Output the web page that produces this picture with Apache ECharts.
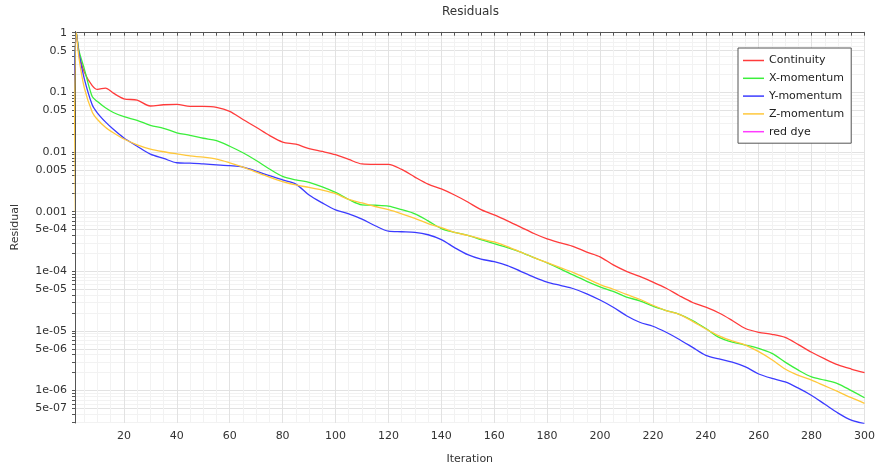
<!DOCTYPE html>
<html>
<head>
<meta charset="utf-8">
<title>Residuals</title>
<script src="https://cdn.jsdelivr.net/npm/echarts@6/dist/echarts.min.js"></script>
<style>
  html, body { margin: 0; padding: 0; background: #ffffff; }
  #residualsChart { width: 878px; height: 470px; }
</style>
</head>
<body>
<div id="residualsChart"></div>
<script>
const iterations = [1, 2, 3, 5, 8, 10, 13, 16, 20, 25, 30, 35, 40, 45, 50, 55, 60, 65, 70, 75, 80, 85, 90, 95, 100,
  105, 110, 115, 120, 125, 130, 135, 140, 145, 150, 155, 160, 165, 170, 175, 180, 185, 190, 195, 200,
  205, 210, 215, 220, 225, 230, 235, 240, 245, 250, 255, 260, 265, 270, 275, 280, 285, 290, 295, 300];

const continuity = [0.05, 1.0, 0.45, 0.22, 0.13, 0.112, 0.118, 0.097, 0.078, 0.074, 0.059, 0.062, 0.063, 0.058, 0.058, 0.056, 0.048, 0.035, 0.026, 0.019, 0.0147, 0.0135, 0.0114, 0.0102, 0.009,
  0.0075, 0.0063, 0.0062, 0.0062, 0.0051, 0.0038, 0.0029, 0.0024, 0.0019, 0.00145, 0.00108, 0.00088, 0.0007, 0.00055, 0.00043, 0.00035, 0.0003, 0.00026, 0.00021, 0.000175,
  0.000128, 0.0001, 0.000082, 0.000066, 0.000052, 0.000039, 0.00003, 0.000025, 0.00002, 0.000015, 0.000011, 0.0000095, 0.0000088, 0.0000078, 0.0000059, 0.0000044, 0.0000034, 0.0000027, 0.0000023, 0.000002];

const xMomentum = [0.05, 1.0, 0.5, 0.25, 0.085, 0.07, 0.055, 0.046, 0.039, 0.034, 0.028, 0.025, 0.021, 0.019, 0.017, 0.0155, 0.0125, 0.0097, 0.0072, 0.0052, 0.0039, 0.0034, 0.0031, 0.0026, 0.0021,
  0.0016, 0.0013, 0.00128, 0.00124, 0.00108, 0.00092, 0.0007, 0.00052, 0.00045, 0.0004, 0.00034, 0.00029, 0.00025, 0.00021, 0.00017, 0.000138, 0.00011, 0.000086, 0.000068, 0.000055,
  0.000046, 0.000037, 0.000032, 0.000026, 0.000022, 0.000019, 0.000015, 0.000011, 0.0000078, 0.0000065, 0.0000058, 0.0000051, 0.0000042, 0.000003, 0.0000022, 0.0000017, 0.0000015, 0.0000013, 0.000001, 0.00000076];

const yMomentum = [0.05, 1.0, 0.45, 0.17, 0.062, 0.045, 0.032, 0.024, 0.0172, 0.0125, 0.0092, 0.0078, 0.0066, 0.0065, 0.0063, 0.0061, 0.0059, 0.0056, 0.0048, 0.004, 0.0034, 0.0029, 0.0019, 0.0014, 0.00107,
  0.00092, 0.00075, 0.00058, 0.00047, 0.00046, 0.00045, 0.00041, 0.00034, 0.00025, 0.00019, 0.00016, 0.000145, 0.000125, 0.0001, 0.00008, 0.000066, 0.000058, 0.000051, 0.000042, 0.000033,
  0.000025, 0.000018, 0.000014, 0.000012, 0.0000095, 0.0000072, 0.0000053, 0.0000039, 0.0000034, 0.000003, 0.0000025, 0.0000019, 0.0000016, 0.0000014, 0.0000011, 0.00000083, 0.00000059, 0.00000042, 0.00000032, 0.00000028];

const zMomentum = [0.001, 1.0, 0.38, 0.12, 0.047, 0.035, 0.026, 0.021, 0.0165, 0.0132, 0.0112, 0.0101, 0.0093, 0.0086, 0.0082, 0.0076, 0.0066, 0.0056, 0.0046, 0.0038, 0.0032, 0.0028, 0.00255, 0.0023, 0.002,
  0.0016, 0.0014, 0.00122, 0.00108, 0.00092, 0.00077, 0.00063, 0.00054, 0.00045, 0.0004, 0.00035, 0.00031, 0.00026, 0.00021, 0.00017, 0.00014, 0.000115, 0.000095, 0.000076, 0.00006,
  0.00005, 0.000041, 0.000034, 0.000027, 0.000022, 0.000019, 0.0000145, 0.0000108, 0.0000083, 0.0000068, 0.0000058, 0.0000045, 0.0000033, 0.0000023, 0.0000018, 0.0000015, 0.0000012, 0.00000096, 0.00000076, 0.00000061];

// no visible data for this one in the picture
const redDye = [];

const yLabelValues = [1, 0.5, 0.1, 0.05, 0.01, 0.005, 0.001, 5e-4, 1e-4, 5e-5, 1e-5, 5e-6, 1e-6, 5e-7];
const yLabelTexts = ["1", "0.5", "0.1", "0.05", "0.01", "0.005", "0.001", "5e-04", "1e-04", "5e-05", "1e-05", "5e-06", "1e-06", "5e-07"];
const xLabelValues = [20, 40, 60, 80, 100, 120, 140, 160, 180, 200, 220, 240, 260, 280, 300];
const xTickValues = [];
for (let v = 5; v <= 300; v += 5) xTickValues.push(v);

// minor ticks 1..9 per decade, plotted on log10 values
const yTickValues = [];
for (let e = 0; e >= -7; e--) {
  for (let k = 1; k <= 9; k++) {
    const lv = Math.log10(k) + e;
    if (lv <= 0.02 && lv >= -6.543) yTickValues.push(lv);
  }
}

const FONT = "DejaVu Sans";

function toPoints(values) {
  return values.map((v, i) => [iterations[i], Math.log10(v)]);
}

const chartDom = document.getElementById("residualsChart");
const myChart = echarts.init(chartDom);

const option = {
  animation: false,
  backgroundColor: "#ffffff",
  title: {
    text: "Residuals",
    left: 442,
    top: 6,
    padding: 0,
    textStyle: { fontFamily: FONT, fontSize: 12, fontWeight: "normal", color: "#333" },
  },
  legend: {
    orient: "vertical",
    left: 738,
    top: 48,
    padding: [6, 7, 5, 5],
    icon: "rect",
    itemWidth: 21,
    itemHeight: 1.5,
    itemGap: 4.8,
    backgroundColor: "#ffffff",
    borderColor: "#555",
    borderWidth: 1,
    borderRadius: 0,
    textStyle: { fontFamily: FONT, fontSize: 11, color: "#222", lineHeight: 13 },
    data: ["Continuity", "X-momentum", "Y-momentum", "Z-momentum", "red dye"],
  },
  grid: { left: 75, right: 10, top: 31.5, bottom: 44.7, containLabel: false },
  xAxis: [
    {
      type: "value",
      min: 1.5,
      max: 300,
      name: "Iteration",
      nameLocation: "middle",
      nameGap: 31,
      nameTextStyle: { fontFamily: FONT, fontSize: 11, color: "#333" },
      axisLine: { show: true, lineStyle: { color: "#555", width: 1 } },
      axisTick: { show: true, length: 3, customValues: xTickValues, lineStyle: { color: "#555" } },
      axisLabel: {
        customValues: xLabelValues,
        margin: 8,
        fontFamily: FONT,
        fontSize: 11,
        color: "#333",
      },
      splitLine: { show: true, lineStyle: { color: "#f2f2f2", width: 1 } },
    },
    {
      type: "value",
      min: 1.5,
      max: 300,
      position: "bottom",
      axisLine: { show: false },
      axisTick: { show: false, customValues: xLabelValues },
      axisLabel: { show: false },
      splitLine: { show: true, lineStyle: { color: "#e2e2e2", width: 1 } },
    },
  ],
  yAxis: [
    {
      type: "value",
      min: -6.543,
      max: 0.02,
      name: "Residual",
      nameLocation: "middle",
      nameGap: 54,
      nameTextStyle: { fontFamily: FONT, fontSize: 11, color: "#333" },
      axisLine: { show: true, lineStyle: { color: "#555", width: 1 } },
      axisTick: { show: true, length: 3, customValues: yTickValues, lineStyle: { color: "#555" } },
      axisLabel: {
        customValues: yLabelValues.map((v) => Math.log10(v)),
        margin: 8,
        fontFamily: FONT,
        fontSize: 11,
        color: "#333",
        formatter: (val) => {
          let best = 0;
          yLabelValues.forEach((v, i) => {
            if (Math.abs(Math.log10(v) - val) < Math.abs(Math.log10(yLabelValues[best]) - val)) best = i;
          });
          return yLabelTexts[best];
        },
      },
      splitLine: { show: true, lineStyle: { color: "#f2f2f2", width: 1 } },
    },
    {
      type: "value",
      min: -6.543,
      max: 0.02,
      position: "left",
      axisLine: { show: false },
      axisTick: { show: false, customValues: yLabelValues.map((v) => Math.log10(v)) },
      axisLabel: { show: false },
      splitLine: { show: true, lineStyle: { color: "#e2e2e2", width: 1 } },
    },
  ],
  series: [
    { name: "Continuity", data: toPoints(continuity), color: "#ff3b3b" },
    { name: "X-momentum", data: toPoints(xMomentum), color: "#3bef3b" },
    { name: "Y-momentum", data: toPoints(yMomentum), color: "#3b3bff" },
    { name: "Z-momentum", data: toPoints(zMomentum), color: "#ffc83b" },
    { name: "red dye", data: toPoints(redDye), color: "#ff3bff" },
  ].map((s) => ({
    ...s,
    type: "line",
    xAxisIndex: 0,
    yAxisIndex: 0,
    symbol: "none",
    smooth: 0.3,
    clip: true,
    lineStyle: { width: 1.3 },
  })),
};

myChart.setOption(option);
window.addEventListener("resize", myChart.resize);
</script>
</body>
</html>
